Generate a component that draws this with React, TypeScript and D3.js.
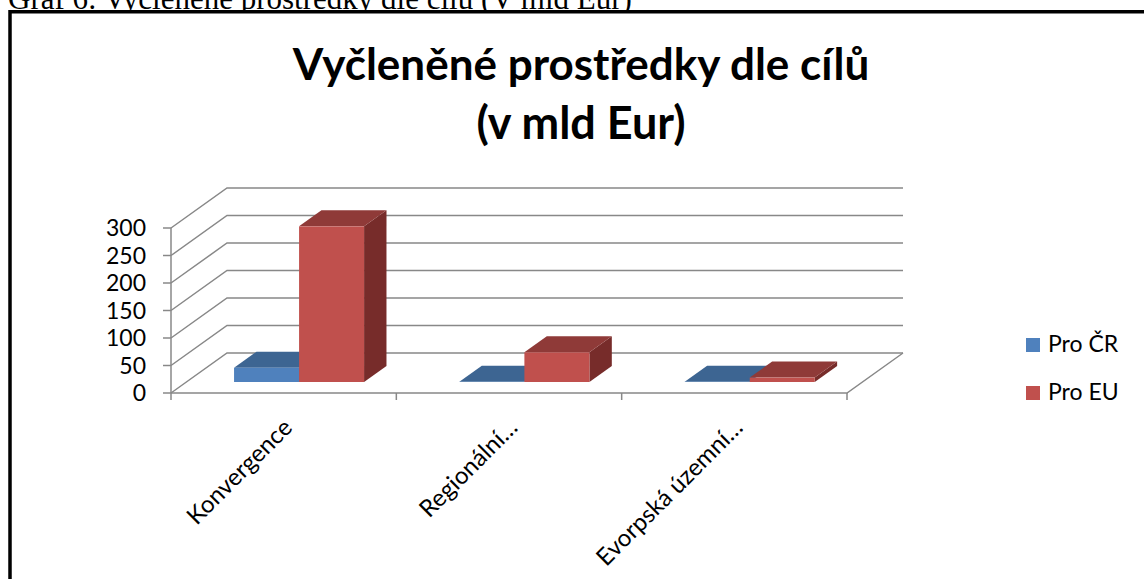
import React from "react";
import * as d3 from "d3";

const categories = ["Konvergence", "Regionální…", "Evorpská územní…"];
const seriesNames = ["Pro ČR", "Pro EU"];
const valuesCR = [25.9, 0.4, 0.4];
const valuesEU = [283, 54, 8];
const yTicks = [0, 50, 100, 150, 200, 250, 300];
const frontColors = ["#4F81BD", "#C0504D"];
const topColors = ["#3D6592", "#8F3A38"];
const sideColors = ["#33567F", "#772C2A"];

const W = 1144;
const H = 579;
const FONT = "Lato, 'Open Sans', sans-serif";

export default function App() {
  const DX = 56;
  const DY = -40;
  const x = d3.scaleBand<string>().domain(categories).range([171, 847]).padding(0);
  const xs = d3
    .scaleBand<string>()
    .domain(seriesNames)
    .range([0, x.bandwidth()])
    .paddingInner(0)
    .paddingOuter(0.733);
  const y = d3.scaleLinear().domain([0, 300]).range([393, 228]);
  const z0 = 0.275;
  const z1 = 0.675;
  const P = (xf: number, v: number, z: number) => [xf + z * DX, y(v) + z * DY];
  const pts = (arr: number[][]) => arr.map((p) => p.join(",")).join(" ");
  const X0 = x.range()[0];
  const X1 = x.range()[1];
  const grid = "#888888";

  const seriesVals = [valuesCR, valuesEU];
  const bars: JSX.Element[] = [];
  categories.forEach((c, ci) => {
    seriesNames.forEach((s, si) => {
      const v = seriesVals[si][ci];
      const xl = (x(c) as number) + (xs(s) as number);
      const xr = xl + xs.bandwidth();
      const fTL = P(xl, v, z0);
      const fBR = P(xr, 0, z0);
      bars.push(
        <g key={c + s}>
          <polygon
            points={pts([P(xr, v, z0), P(xr, 0, z0), P(xr, 0, z1), P(xr, v, z1)])}
            fill={sideColors[si]}
          />
          <polygon
            points={pts([P(xl, v, z0), P(xr, v, z0), P(xr, v, z1), P(xl, v, z1)])}
            fill={topColors[si]}
          />
          <rect
            x={fTL[0]}
            y={fTL[1]}
            width={fBR[0] - fTL[0]}
            height={Math.max(0, fBR[1] - fTL[1])}
            fill={frontColors[si]}
          />
        </g>
      );
    });
  });

  const catTicks = [...categories.map((c) => x(c) as number), X1];

  return (
    <svg
      width={W}
      height={H}
      style={{ position: "absolute", left: 0, top: 0 }}
      xmlns="http://www.w3.org/2000/svg"
    >
      <rect x={0} y={0} width={W} height={H} fill="#fff" />
      <text x={8} y={9} fontFamily="'Liberation Serif', 'Times New Roman', serif" fontSize={31} fill="#000">
        Graf 6: Vyčleněné prostředky dle cílů (V mld Eur)
      </text>
      <rect x={10} y={11.75} width={1300} height={700} fill="#fff" stroke="#000" strokeWidth={3.5} />

      <text x={581} y={80} textAnchor="middle" fontFamily={FONT} fontWeight={700} fontSize={44} fill="#000">
        Vyčleněné prostředky dle cílů
      </text>
      <text x={581} y={139} textAnchor="middle" fontFamily={FONT} fontWeight={700} fontSize={45} fill="#000">
        (v mld Eur)
      </text>

      {/* walls & grid */}
      <g stroke={grid} strokeWidth={1.5} fill="none">
        {yTicks.map((t) => {
          const a = P(X0, t, 0);
          const b = P(X0, t, 1);
          const c = P(X1, t, 1);
          return (
            <g key={t}>
              <polyline points={pts([a, b, c])} />
              <line x1={a[0] - 8} y1={a[1]} x2={a[0]} y2={a[1]} />
            </g>
          );
        })}
        <line x1={X0} y1={y(0)} x2={X0} y2={y(300)} />
        <polyline points={pts([P(X0, 0, 0), P(X1, 0, 0), P(X1, 0, 1)])} />
        {catTicks.map((t, i) => (
          <line key={i} x1={t} y1={y(0)} x2={t} y2={y(0) + 7} />
        ))}
      </g>

      {bars}

      {/* y labels */}
      {yTicks.map((t) => (
        <text key={t} x={146} y={y(t) + 8} textAnchor="end" fontFamily={FONT} fontSize={23} fill="#000">
          {t}
        </text>
      ))}

      {/* x labels */}
      {categories.map((c) => {
        const cx = (x(c) as number) + x.bandwidth() / 2 + 10;
        const cy = 429;
        return (
          <text
            key={c}
            transform={`translate(${cx},${cy}) rotate(-45)`}
            textAnchor="end"
            fontFamily={FONT}
            fontSize={24}
            fill="#000"
          >
            {c}
          </text>
        );
      })}

      {/* legend */}
      {seriesNames.map((s, i) => (
        <g key={s} transform={`translate(1026,${338 + i * 48})`}>
          <rect x={0} y={0} width={14} height={14} fill={frontColors[i]} />
          <text x={22} y={14} fontFamily={FONT} fontSize={23} fill="#000">
            {s}
          </text>
        </g>
      ))}
    </svg>
  );
}
